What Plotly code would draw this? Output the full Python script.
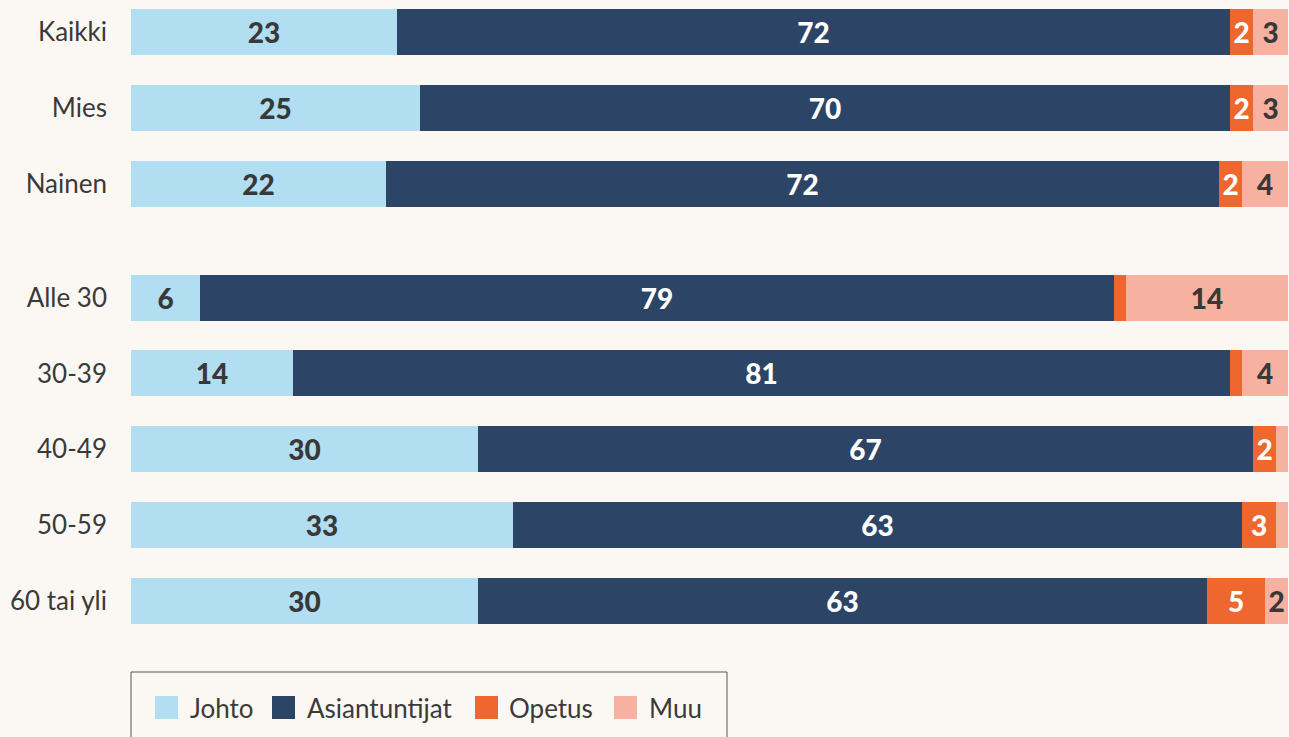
import plotly.graph_objects as go

# ---- data ----
categories = ["Kaikki", "Mies", "Nainen", "Alle 30", "30-39", "40-49", "50-59", "60 tai yli"]
groups = [0, 0, 0, 1, 1, 1, 1, 1]
series_names = ["Johto", "Asiantuntijat", "Opetus", "Muu"]
johto = [23, 25, 22, 6, 14, 30, 33, 30]
asiantuntijat = [72, 70, 72, 79, 81, 67, 63, 63]
opetus = [2, 2, 2, 1, 1, 2, 3, 5]
muu = [3, 3, 4, 14, 4, 1, 1, 2]

# ---- style ----
colors = ["#b1def1", "#2c4466", "#ee672f", "#f6b1a0"]
label_colors = ["#383838", "#ffffff", "#ffffff", "#383838"]
bg = "#fbf8f3"
text_dark = "#3a3a3a"

W, H = 1289, 737
ML, MR, MT, MB = 131, 1, 0, 97
PW, PH = W - ML - MR, H - MT - MB

ypos = [i + 0.5 * g for i, g in enumerate(groups)]

fig = go.Figure()
for name, vals, col, lc in zip(series_names, [johto, asiantuntijat, opetus, muu], colors, label_colors):
    fig.add_trace(go.Bar(
        name=name, x=vals, y=ypos, orientation="h",
        marker=dict(color=col, line=dict(width=0)),
        width=0.606,
        text=[str(v) if v >= 2 else "" for v in vals],
        textposition="inside", insidetextanchor="middle", textangle=0,
        insidetextfont=dict(family="Lato", size=28, color=lc, weight=900),
        showlegend=False,
        hovertemplate="%{x}<extra>" + name + "</extra>",
    ))

# custom legend (box, swatches, labels); coordinates in figure pixels
def px2x(px):
    return (px - ML) / PW

def px2y(py):
    return (MT + PH - py) / PH

shapes = [dict(type="rect", xref="paper", yref="paper",
               x0=px2x(131), x1=px2x(727), y0=px2y(672), y1=px2y(780),
               line=dict(color="#555555", width=1), fillcolor="rgba(0,0,0,0)")]
annotations = []
sw_left = [155, 272, 475, 614]
txt_left = [188, 305, 507, 647]
cy = 707.5
for name, col, sx, tx in zip(series_names, colors, sw_left, txt_left):
    shapes.append(dict(type="rect", xref="paper", yref="paper",
                       x0=px2x(sx), x1=px2x(sx + 23), y0=px2y(cy + 11.5), y1=px2y(cy - 11.5),
                       line=dict(width=0), fillcolor=col))
    annotations.append(dict(text=name, xref="paper", yref="paper", x=px2x(tx), y=px2y(cy),
                            xanchor="left", yanchor="middle", showarrow=False,
                            font=dict(family="Lato", size=26, color=text_dark)))

fig.update_layout(
    width=W, height=H,
    margin=dict(l=ML, r=MR, t=MT, b=MB),
    barmode="stack", bargap=0,
    paper_bgcolor=bg, plot_bgcolor=bg,
    shapes=shapes, annotations=annotations,
    xaxis=dict(range=[0, 100], showgrid=False, zeroline=False, showticklabels=False,
               showline=False, fixedrange=True),
    yaxis=dict(range=[8.014, -0.4218], tickvals=ypos, ticktext=categories,
               showgrid=False, zeroline=False, showline=False, ticks="",
               ticklabelstandoff=23, fixedrange=True,
               tickfont=dict(family="Lato", size=26, color=text_dark)),
    font=dict(family="Lato"),
    showlegend=False,
)

fig.write_html(
    "out.html",
    config={"displayModeBar": False},
    post_script="document.body.style.margin='0';document.body.style.overflow='hidden';"
                "document.body.style.background='" + bg + "';",
)
